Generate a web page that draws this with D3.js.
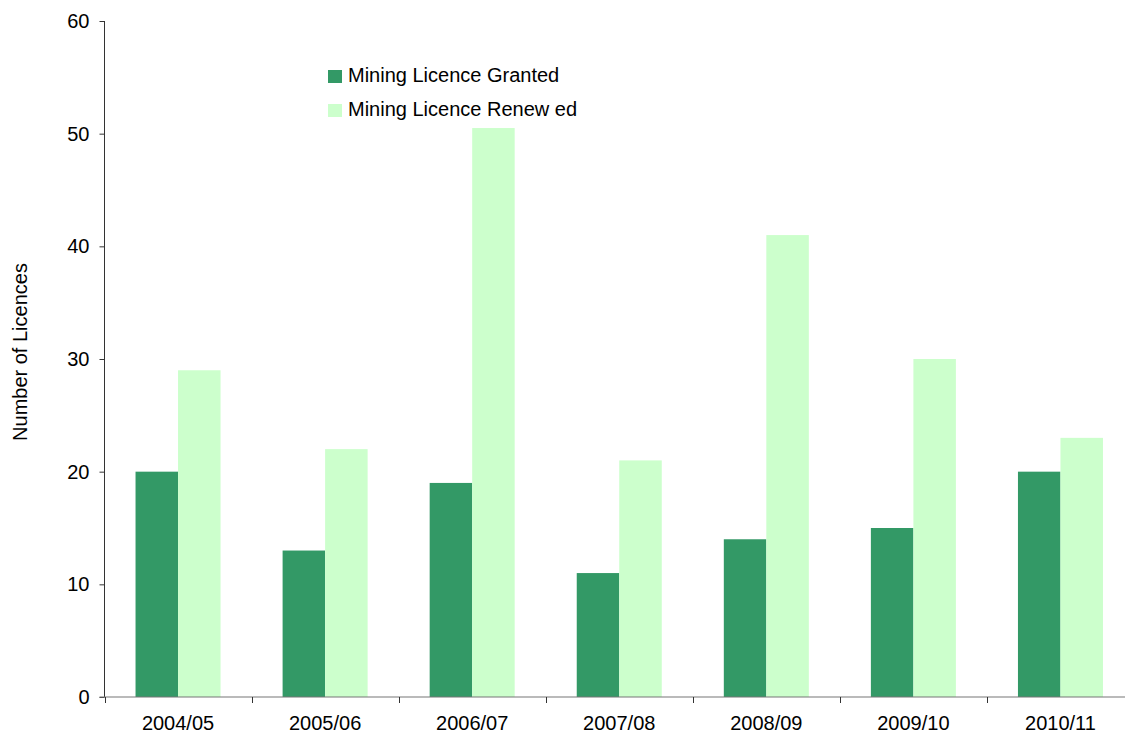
<!DOCTYPE html>
<html><head><meta charset="utf-8">
<script src="https://cdn.jsdelivr.net/npm/d3@7/dist/d3.min.js"></script>
<style>body{margin:0;background:#fff}svg{display:block;font-family:"Liberation Sans",Arial,sans-serif}</style>
</head><body><svg id="c" width="1125" height="733"></svg>
<script>
const categories = ["2004/05","2005/06","2006/07","2007/08","2008/09","2009/10","2010/11"];
const seriesNames = ["Mining Licence Granted","Mining Licence Renewed"];
const legendLabels = ["Mining Licence Granted","Mining Licence Renew ed"];
const granted = [20,13,19,11,14,15,20];
const renewed = [29,22,50.5,21,41,30,23];
const yTicks = [0,10,20,30,40,50,60];
const colors = ["#339966","#CCFFCC"];

(function(){
const svg = d3.select("#c");
const mLeft = 104.5, mRight = 1134, mTop = 21, mBottom = 697;
const x0 = d3.scaleBand().domain(categories).range([mLeft, mRight]).padding(0);
const x1 = d3.scaleBand().domain(seriesNames).range([0, x0.bandwidth()]).paddingInner(0).paddingOuter(0.73);
const y = d3.scaleLinear().domain([0,60]).range([mBottom, mTop]);
const color = d3.scaleOrdinal().domain(seriesNames).range(colors);

const data = categories.map((c,i)=>({cat:c, vals:[{s:seriesNames[0],v:granted[i]},{s:seriesNames[1],v:renewed[i]}]}));

const g = svg.append("g");
g.selectAll("g.grp").data(data).join("g").attr("class","grp")
 .attr("transform",d=>`translate(${x0(d.cat)},0)`)
 .selectAll("rect").data(d=>d.vals).join("rect")
 .attr("x",d=>x1(d.s)).attr("width",x1.bandwidth())
 .attr("y",d=>y(d.v)).attr("height",d=>y(0)-y(d.v))
 .attr("fill",d=>color(d.s));

// Y axis
const yAxis = d3.axisLeft(y).tickValues(yTicks).tickSize(5).tickPadding(10);
const ya = svg.append("g").attr("transform",`translate(${mLeft},0)`).call(yAxis);
ya.select(".domain").attr("stroke","#333").attr("d",`M0,${mTop}V${mBottom}`);
ya.selectAll(".tick line").attr("stroke","#333");
ya.selectAll(".tick text").attr("font-size",20).attr("fill","#000").attr("font-family","Liberation Sans, Arial, sans-serif");

// X axis
const xa = svg.append("g").attr("transform",`translate(0,${mBottom})`);
xa.append("line").attr("x1",mLeft-5).attr("x2",mRight).attr("y1",0).attr("y2",0).attr("stroke","#777").attr("stroke-width",1.2);
const bounds = categories.map(c=>x0(c)).concat([mRight]);
xa.selectAll("line.tk").data(bounds).join("line").attr("class","tk")
 .attr("x1",d=>Math.round(d)+0.5).attr("x2",d=>Math.round(d)+0.5).attr("y1",0).attr("y2",6).attr("stroke","#333");
xa.selectAll("text").data(categories).join("text")
 .attr("x",d=>x0(d)+x0.bandwidth()/2).attr("y",33).attr("text-anchor","middle")
 .attr("font-size",20).attr("fill","#000").text(d=>d);

// Y label
svg.append("text").attr("transform","translate(27,352) rotate(-90)").attr("text-anchor","middle")
 .attr("font-size",20).attr("fill","#000").text("Number of Licences");

// Legend
const lg = svg.append("g").attr("transform","translate(328,70)");
legendLabels.forEach((l,i)=>{
  lg.append("rect").attr("x",0).attr("y",i*34).attr("width",14).attr("height",13).attr("fill",colors[i]);
  lg.append("text").attr("x",20).attr("y",i*34+12).attr("font-size",20).attr("fill","#000").text(l);
});
})();
</script></body></html>
